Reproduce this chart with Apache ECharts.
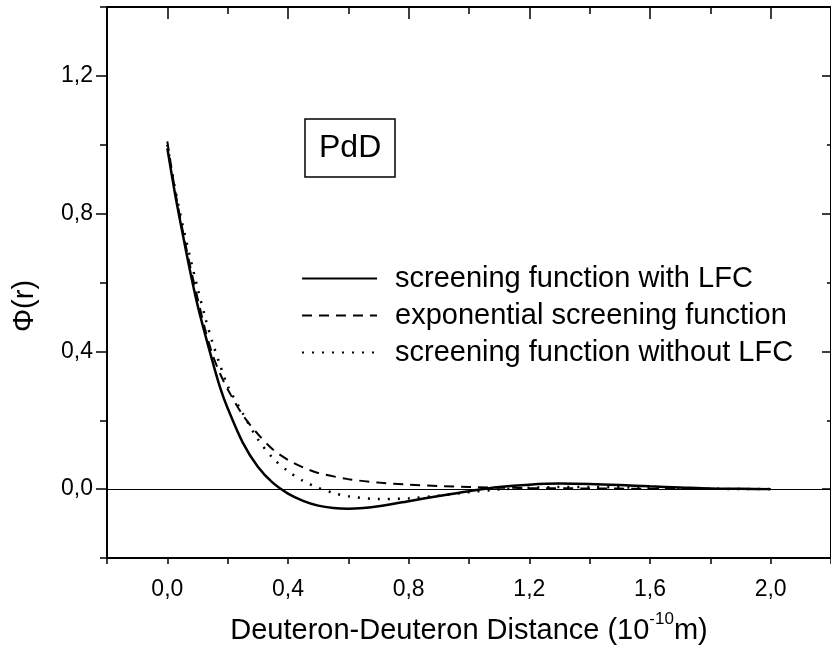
<!DOCTYPE html>
<html>
<head>
<meta charset="utf-8">
<title>PdD screening function</title>
<script src="https://cdn.jsdelivr.net/npm/echarts@6/dist/echarts.min.js"></script>
<style>
  html, body { margin: 0; padding: 0; background: #fff; }
  #chart { width: 831px; height: 653px; }
</style>
</head>
<body>
<div id="chart"></div>
<script>
// deuteron-deuteron distance r (10^-10 m) and screening function values
const rLFC = [0, 0.025, 0.05, 0.075, 0.1, 0.125, 0.15, 0.175, 0.2, 0.25, 0.3, 0.35, 0.4, 0.45, 0.5, 0.55, 0.6, 0.65, 0.7, 0.8, 0.9, 1.0, 1.1, 1.2, 1.3, 1.4, 1.5, 1.6, 1.7, 1.8, 1.9, 2.0]
const phiLFC = [0.99, 0.86, 0.745, 0.635, 0.535, 0.45, 0.37, 0.295, 0.235, 0.135, 0.065, 0.018, -0.013, -0.034, -0.048, -0.055, -0.057, -0.055, -0.05, -0.035, -0.02, -0.006, 0.006, 0.013, 0.016, 0.015, 0.012, 0.008, 0.005, 0.002, 0.001, 0]

const rExp = [0, 0.025, 0.05, 0.075, 0.1, 0.125, 0.15, 0.175, 0.2, 0.25, 0.3, 0.35, 0.4, 0.45, 0.5, 0.6, 0.7, 0.8, 0.9, 1.0, 1.2, 1.4, 1.6, 1.8, 2.0]
const phiExp = [1.01, 0.87, 0.755, 0.65, 0.555, 0.465, 0.39, 0.335, 0.29, 0.215, 0.16, 0.115, 0.085, 0.063, 0.047, 0.029, 0.019, 0.013, 0.009, 0.006, 0.003, 0.002, 0.001, 0.0005, 0]

const rNoLFC = [0, 0.025, 0.05, 0.075, 0.1, 0.125, 0.15, 0.175, 0.2, 0.25, 0.3, 0.35, 0.4, 0.45, 0.5, 0.55, 0.6, 0.7, 0.8, 0.9, 1.0, 1.1, 1.2, 1.3, 1.4, 1.6, 1.8, 2.0]
const phiNoLFC = [1.0, 0.875, 0.77, 0.675, 0.585, 0.5, 0.425, 0.36, 0.3, 0.22, 0.145, 0.09, 0.052, 0.024, 0.004, -0.011, -0.021, -0.029, -0.027, -0.019, -0.009, -0.001, 0.004, 0.006, 0.006, 0.004, 0.001, 0]

const seriesNames = ['screening function with LFC', 'exponential screening function', 'screening function without LFC']
const xLabels = [0, 0.4, 0.8, 1.2, 1.6, 2.0]
const yLabels = [0, 0.4, 0.8, 1.2]

const FONT = 'Liberation Sans, Arial, sans-serif'
const zip = (xs, ys) => xs.map((x, i) => [x, ys[i]])
const fmt = v => v.toFixed(1).replace('.', ',')

const chart = echarts.init(document.getElementById('chart'))

const lineAxis = { show: true, onZero: false, lineStyle: { color: '#000', width: 2 } }
const noLine = { show: false, onZero: false }
const tickStyle = { color: '#000', width: 1.5 }

const option = {
  animation: false,
  backgroundColor: '#fff',
  title: {
    text: 'PdD',
    left: 305,
    top: 119,
    padding: [13, 14, 13, 14],
    borderColor: '#000',
    borderWidth: 1.5,
    textStyle: { fontFamily: FONT, fontSize: 32, fontWeight: 'normal', color: '#000' },
  },
  legend: {
    orient: 'vertical',
    left: 301,
    top: 260,
    padding: 0,
    itemGap: 0,
    itemWidth: 75,
    itemHeight: 20,
    data: seriesNames,
    itemStyle: { opacity: 0 },
    textStyle: {
      fontFamily: FONT,
      fontSize: 29,
      color: '#000',
      lineHeight: 37,
      padding: [0, 0, 0, 13],
    },
  },
  grid: { left: 107, top: 7, width: 725, height: 551 },
  xAxis: [
    {
      type: 'value',
      position: 'bottom',
      min: -0.2,
      max: 2.2,
      interval: 0.2,
      axisLine: lineAxis,
      axisTick: { show: true, length: 6, lineStyle: tickStyle },
      axisLabel: {
        customValues: xLabels,
        formatter: fmt,
        fontFamily: FONT,
        fontSize: 23,
        color: '#000',
        margin: 20,
      },
      splitLine: { show: false },
      name: '{m|Deuteron-Deuteron Distance (10}{s|-10}{m|m)}',
      nameLocation: 'middle',
      nameGap: 53,
      nameTextStyle: {
        fontFamily: FONT,
        fontSize: 29,
        color: '#000',
        rich: {
          m: { fontFamily: FONT, fontSize: 29, color: '#000', verticalAlign: 'bottom' },
          s: { fontFamily: FONT, fontSize: 17, color: '#000', verticalAlign: 'top', padding: [0, 0, 17, 0] },
        },
      },
    },
    {
      type: 'value',
      position: 'top',
      min: -0.2,
      max: 2.2,
      interval: 0.2,
      axisLine: lineAxis,
      axisTick: { show: true, inside: true, length: 7, lineStyle: tickStyle },
      axisLabel: { show: false },
      splitLine: { show: false },
    },
    {
      type: 'value',
      position: 'top',
      min: -0.2,
      max: 2.2,
      axisLine: noLine,
      axisTick: { show: true, inside: true, length: 12, customValues: xLabels, lineStyle: tickStyle },
      axisLabel: { show: false },
      splitLine: { show: false },
    },
  ],
  yAxis: [
    {
      type: 'value',
      position: 'left',
      min: -0.2,
      max: 1.4,
      interval: 0.2,
      axisLine: lineAxis,
      axisTick: { show: true, length: 7, lineStyle: tickStyle },
      axisLabel: {
        customValues: yLabels,
        formatter: fmt,
        fontFamily: FONT,
        fontSize: 23,
        color: '#000',
        margin: 14,
      },
      splitLine: { show: false },
      name: 'Φ(r)',
      nameLocation: 'middle',
      nameGap: 68,
      nameRotate: 90,
      nameTextStyle: { fontFamily: FONT, fontSize: 29, color: '#000', padding: [0, 47, 0, 0] },
    },
    {
      type: 'value',
      position: 'left',
      min: -0.2,
      max: 1.4,
      axisLine: noLine,
      axisTick: { show: true, length: 11, customValues: yLabels, lineStyle: tickStyle },
      axisLabel: { show: false },
      splitLine: { show: false },
    },
    {
      type: 'value',
      position: 'right',
      min: -0.2,
      max: 1.4,
      interval: 0.2,
      axisLine: lineAxis,
      axisTick: { show: true, inside: true, length: 4, lineStyle: tickStyle },
      axisLabel: { show: false },
      splitLine: { show: false },
    },
    {
      type: 'value',
      position: 'right',
      min: -0.2,
      max: 1.4,
      axisLine: noLine,
      axisTick: { show: true, inside: true, length: 9, customValues: yLabels, lineStyle: tickStyle },
      axisLabel: { show: false },
      splitLine: { show: false },
    },
  ],
  series: [
    {
      name: seriesNames[0],
      type: 'line',
      data: zip(rLFC, phiLFC),
      symbol: 'none',
      smooth: 0.3,
      lineStyle: { color: '#000', width: 2.5, type: 'solid' },
      itemStyle: { color: '#000' },
      markLine: {
        silent: true,
        symbol: ['none', 'none'],
        label: { show: false },
        lineStyle: { color: '#000', width: 1, type: 'solid' },
        data: [{ yAxis: 0 }],
      },
      z: 3,
    },
    {
      name: seriesNames[1],
      type: 'line',
      data: zip(rExp, phiExp),
      symbol: 'none',
      smooth: 0.3,
      lineStyle: { color: '#000', width: 2, type: [10, 7] },
      itemStyle: { color: '#000' },
      z: 2,
    },
    {
      name: seriesNames[2],
      type: 'line',
      data: zip(rNoLFC, phiNoLFC),
      symbol: 'none',
      smooth: 0.3,
      lineStyle: { color: '#000', width: 2.5, type: [2, 8] },
      itemStyle: { color: '#000' },
      z: 2,
    },
  ],
}

chart.setOption(option)
</script>
</body>
</html>
